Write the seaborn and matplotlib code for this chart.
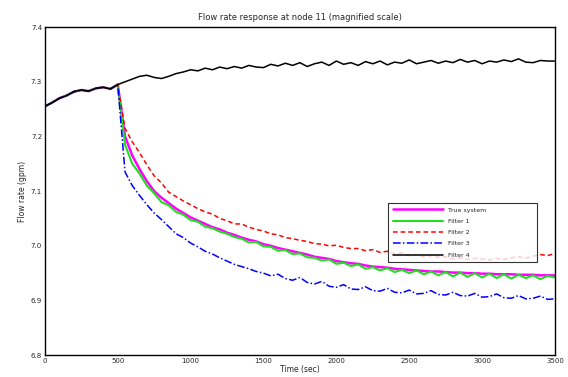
import matplotlib
matplotlib.use("Agg")
import matplotlib.pyplot as plt
import seaborn as sns
import pandas as pd

time_s = list(range(0, 3501, 50))

pre_event = [7.255, 7.262, 7.270, 7.275, 7.282, 7.285, 7.283, 7.288, 7.290, 7.287, 7.295]

true_after = [7.200, 7.165, 7.140, 7.118, 7.100, 7.088, 7.078, 7.068, 7.060, 7.052,
              7.046, 7.040, 7.034, 7.030, 7.024, 7.020, 7.015, 7.011, 7.008, 7.003,
              7.000, 6.996, 6.993, 6.990, 6.987, 6.984, 6.980, 6.978, 6.976, 6.972,
              6.970, 6.968, 6.967, 6.964, 6.962, 6.961, 6.960, 6.958, 6.957, 6.956,
              6.955, 6.954, 6.953, 6.953, 6.952, 6.951, 6.951, 6.950, 6.950, 6.949,
              6.949, 6.948, 6.948, 6.948, 6.947, 6.947, 6.947, 6.946, 6.946, 6.946]

filter1_after = [7.185, 7.150, 7.132, 7.110, 7.096, 7.080, 7.074, 7.062, 7.057, 7.047,
                 7.044, 7.035, 7.032, 7.026, 7.022, 7.016, 7.013, 7.006, 7.007, 6.999,
                 6.998, 6.991, 6.992, 6.985, 6.986, 6.979, 6.978, 6.973, 6.975, 6.967,
                 6.969, 6.963, 6.966, 6.958, 6.961, 6.955, 6.959, 6.952, 6.956, 6.950,
                 6.955, 6.948, 6.953, 6.946, 6.952, 6.944, 6.951, 6.943, 6.950, 6.942,
                 6.949, 6.941, 6.948, 6.940, 6.947, 6.941, 6.946, 6.939, 6.945, 6.942]

filter2_after = [7.215, 7.190, 7.170, 7.148, 7.128, 7.115, 7.098, 7.090, 7.082, 7.075,
                 7.068, 7.062, 7.058, 7.050, 7.046, 7.040, 7.040, 7.034, 7.030, 7.027,
                 7.022, 7.020, 7.015, 7.013, 7.010, 7.008, 7.004, 7.003, 7.000, 7.001,
                 6.997, 6.995, 6.995, 6.991, 6.993, 6.988, 6.990, 6.985, 6.987, 6.982,
                 6.984, 6.980, 6.982, 6.979, 6.980, 6.976, 6.978, 6.975, 6.977, 6.976,
                 6.974, 6.977, 6.975, 6.978, 6.980, 6.977, 6.981, 6.984, 6.982, 6.986]

filter3_after = [7.135, 7.110, 7.092, 7.075, 7.060, 7.048, 7.035, 7.022, 7.015, 7.005,
                 6.998, 6.990, 6.985, 6.978, 6.972, 6.966, 6.962, 6.958, 6.953, 6.950,
                 6.945, 6.948, 6.940, 6.937, 6.942, 6.933, 6.930, 6.935, 6.926, 6.924,
                 6.929, 6.921, 6.920, 6.925, 6.918, 6.917, 6.922, 6.915, 6.914, 6.919,
                 6.912, 6.913, 6.918, 6.911, 6.910, 6.915, 6.909, 6.908, 6.913, 6.906,
                 6.907, 6.912, 6.905, 6.904, 6.909, 6.903, 6.904, 6.908, 6.902, 6.903]

filter4_after = [7.300, 7.305, 7.310, 7.312, 7.308, 7.306, 7.310, 7.315, 7.318, 7.322,
                 7.320, 7.325, 7.322, 7.327, 7.324, 7.328, 7.325, 7.330, 7.327, 7.326,
                 7.332, 7.329, 7.334, 7.330, 7.335, 7.328, 7.333, 7.336, 7.330, 7.338,
                 7.332, 7.335, 7.330, 7.337, 7.333, 7.338, 7.331, 7.336, 7.334, 7.340,
                 7.333, 7.336, 7.339, 7.334, 7.338, 7.335, 7.341, 7.336, 7.339, 7.333,
                 7.338, 7.336, 7.340, 7.337, 7.342, 7.336, 7.335, 7.339, 7.338, 7.338]

series = [
    ("True system", true_after, "#ff00ff", "-", 1.8),
    ("Filter 1", filter1_after, "#22dd22", "-", 1.5),
    ("Filter 2", filter2_after, "#ff0000", (0, (3, 2)), 1.1),
    ("Filter 3", filter3_after, "#0000ff", (0, (5, 1.5, 1, 1.5)), 1.1),
    ("Filter 4", filter4_after, "#000000", "-", 1.1),
]

x_ticks = [0, 500, 1000, 1500, 2000, 2500, 3000, 3500]
y_ticks = [6.8, 6.9, 7.0, 7.1, 7.2, 7.3, 7.4]

sns.set_theme(style="white")
plt.rcParams['font.family'] = ['DejaVu Sans']

fig = plt.figure(figsize=(5.68, 3.77), dpi=100)
ax = fig.add_axes([0.079, 0.058, 0.898, 0.870])

for name, after, color, ls, lw in series:
    df = pd.DataFrame({"t": time_s, "v": pre_event + after})
    sns.lineplot(data=df, x="t", y="v", ax=ax, color=color, linestyle=ls,
                 linewidth=lw, label=name)

ax.set_xlim(0, 3500)
ax.set_ylim(6.8, 7.4)
ax.set_xticks(x_ticks)
ax.set_yticks(y_ticks)
ax.set_xticklabels([str(v) for v in x_ticks], fontsize=5)
ax.set_yticklabels([f"{v:.1f}" for v in y_ticks], fontsize=5)
ax.tick_params(direction="in", length=3, width=0.8, pad=2)
ax.set_xlabel("Time (sec)", fontsize=5.5, labelpad=1)
ax.set_ylabel("Flow rate (gpm)", fontsize=5.5, labelpad=3)
ax.set_title("Flow rate response at node 11 (magnified scale)", fontsize=6, pad=5)
for sp in ax.spines.values():
    sp.set_color("black")
    sp.set_linewidth(1.0)

leg = ax.legend(loc="lower left", bbox_to_anchor=(0.667, 0.274, 0.304, 0.214),
                mode="expand", fontsize=4.5, handlelength=8, frameon=True,
                fancybox=False, borderpad=0.7, labelspacing=0.95)
leg.get_frame().set_edgecolor("black")
leg.get_frame().set_linewidth(0.8)

fig.savefig("out.png", dpi=100, facecolor="white")
